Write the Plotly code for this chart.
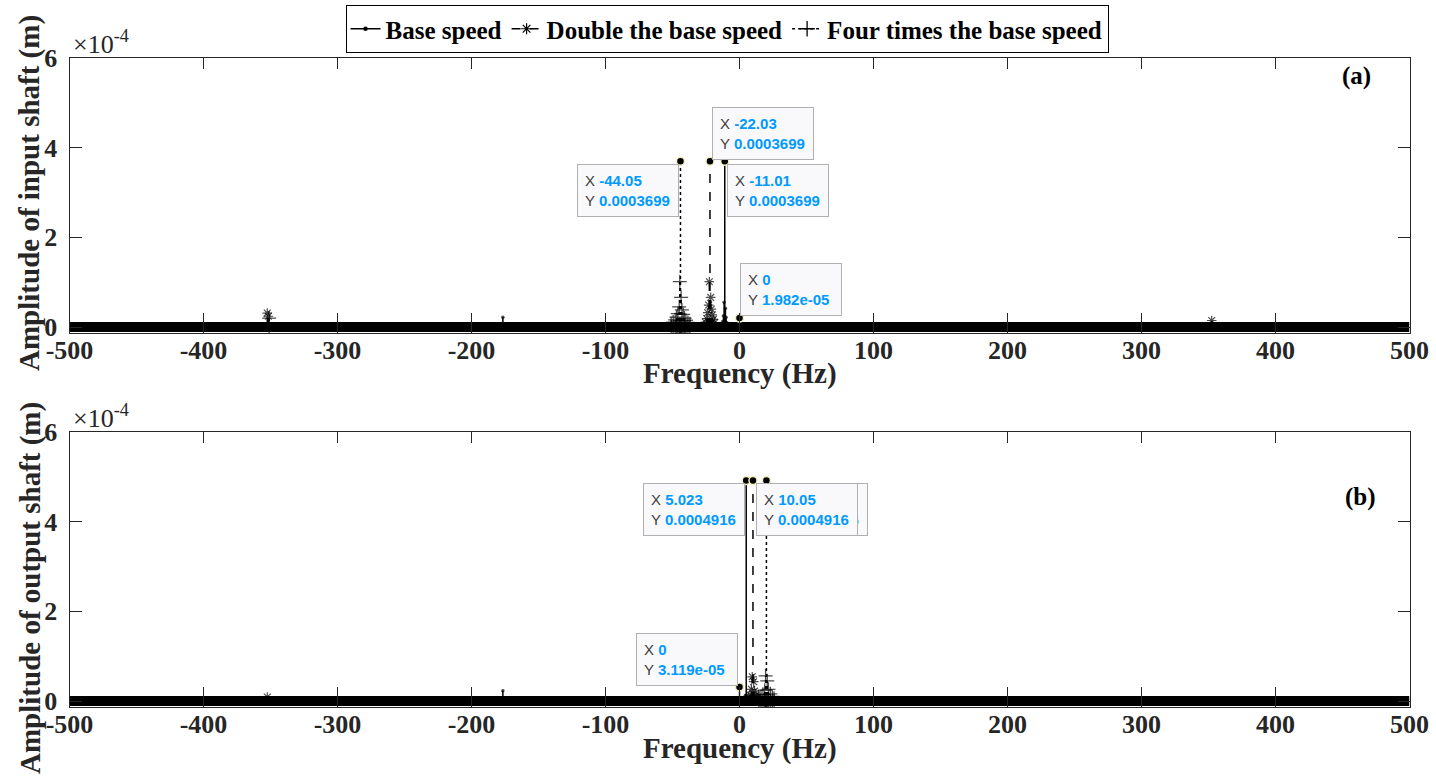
import plotly.graph_objects as go

# ---------------- data ----------------
freq_ticks = [-500, -400, -300, -200, -100, 0, 100, 200, 300, 400, 500]
freq_tick_text = ["-500", "-400", "-300", "-200", "-100", "0", "100", "200", "300", "400", "500"]
amp_ticks = [0, 2e-4, 4e-4, 6e-4]
amp_tick_text = ["0", "2", "4", "6"]

floor_freq = [-500, 500]
floor_amp = [0, 0]

series_names = ["Base speed", "Double the base speed", "Four times the base speed"]

# panel (a): input shaft
a_base_freq = [-176.6, -12.6, -12.0, -11.5, -11.01, -10.5, -10.0, -9.4, 0.0]
a_base_amp = [2.2e-5, 1.2e-5, 2.5e-5, 5.5e-5, 3.699e-4, 4.2e-5, 2.2e-5, 1.0e-5, 1.982e-5]

a_double_freq = [-352.4, -351.6, -25.5, -24.5, -23.7, -23.0, -22.5, -22.03, -21.5, -21.0, -20.3, -19.5, -18.5, 352.4]
a_double_amp = [3.1e-5, 2.4e-5, 1.1e-5, 1.9e-5, 3.2e-5, 4.9e-5, 1.01e-4, 3.699e-4, 6.6e-5, 4.0e-5, 2.7e-5, 1.7e-5, 1.0e-5, 1.45e-5]

a_four_freq = [-351.0, -51.0, -49.5, -48.0, -47.0, -46.0, -45.0, -44.55, -44.05, -43.55, -43.0, -42.0, -41.0, -40.0, -38.5, -37.0]
a_four_amp = [2.0e-5, 0.7e-5, 1.1e-5, 1.6e-5, 2.2e-5, 3.0e-5, 4.5e-5, 1.01e-4, 3.699e-4, 6.6e-5, 3.8e-5, 2.8e-5, 2.0e-5, 1.5e-5, 1.0e-5, 0.7e-5]

# panel (b): output shaft
b_base_freq = [-176.6, 0.0, 4.3, 5.023, 5.7]
b_base_amp = [2.3e-5, 3.119e-5, 1.2e-5, 4.916e-4, 1.0e-5]

b_double_freq = [-352.4, 6.5, 7.8, 8.9, 9.5, 10.05, 10.6, 11.2, 12.3, 13.5]
b_double_amp = [0.9e-5, 0.8e-5, 1.4e-5, 2.6e-5, 5.4e-5, 4.916e-4, 4.3e-5, 2.2e-5, 1.3e-5, 0.8e-5]

b_four_freq = [14.5, 16.0, 17.5, 18.8, 19.5, 20.09, 20.7, 21.6, 23.0, 24.5, 25.8]
b_four_amp = [0.6e-5, 1.0e-5, 1.5e-5, 2.4e-5, 5.6e-5, 4.916e-4, 4.5e-5, 2.6e-5, 1.6e-5, 1.0e-5, 0.6e-5]

# data tips
a_tip_freq = [-44.05, -22.03, -11.01, 0.0]
a_tip_amp = [3.699e-4, 3.699e-4, 3.699e-4, 1.982e-5]
b_tip_freq = [20.09, 5.023, 10.05, 0.0]
b_tip_amp = [4.916e-4, 4.916e-4, 4.916e-4, 3.119e-5]

# ---------------- styling ----------------
SERIF = "Liberation Serif"
SANS = "Liberation Sans"
AXC = "#262626"
BLUE = "#0099ff"

styles = [
    dict(dash="solid", symbol="circle", size=3.5, mline=0),
    dict(dash="dash", symbol="asterisk-open", size=8, mline=1.2),
    dict(dash="dot", symbol="cross-thin-open", size=10, mline=1.3),
]

W, H = 1436, 781
x_left_px, x_right_px = 69.5, 1409.5
a_top_px, a_zero_px, a_bot_px = 58, 327, 332.5
b_top_px, b_zero_px, b_bot_px = 432, 701, 706.5


def py(px):
    return 1 - px / H


def px_x(px):
    return px / W


def yrange(top_px, zero_px, bot_px):
    per_px = 6e-4 / (zero_px - top_px)
    return [-(bot_px - zero_px) * per_px, 6e-4]


def stems(freqs, amps, size, tip_freqs):
    xs, ys, sizes = [], [], []
    for f, a in zip(freqs, amps):
        xs += [f, f, None]
        ys += [0, a, None]
        sizes += [size, 0 if f in tip_freqs else size, 0]
    return xs, ys, sizes


fig = go.Figure()

# legend-only entries
for i, name in enumerate(series_names):
    st = styles[i]
    fig.add_trace(go.Scatter(
        x=[None], y=[None], mode="lines+markers", name=name, legendgroup=name, showlegend=True,
        line=dict(color="black", width=1.5, dash=st["dash"]),
        marker=dict(symbol=st["symbol"], size=st["size"] + 1, color="black",
                    line=dict(color="black", width=st["mline"])),
        hoverinfo="skip"))

panels = [
    ("x", "y", [(a_base_freq, a_base_amp), (a_double_freq, a_double_amp), (a_four_freq, a_four_amp)], a_tip_freq, a_tip_amp),
    ("x2", "y2", [(b_base_freq, b_base_amp), (b_double_freq, b_double_amp), (b_four_freq, b_four_amp)], b_tip_freq, b_tip_amp),
]

for xa, ya, series, tf, ta in panels:
    fig.add_trace(go.Scatter(x=floor_freq, y=floor_amp, mode="lines", xaxis=xa, yaxis=ya,
                             line=dict(color="black", width=10), showlegend=False, hoverinfo="skip"))
    for i, (fr, am) in enumerate(series):
        st = styles[i]
        xs, ys, sizes = stems(fr, am, st["size"], tf)
        fig.add_trace(go.Scatter(
            x=xs, y=ys, mode="lines+markers", xaxis=xa, yaxis=ya,
            name=series_names[i], legendgroup=series_names[i], showlegend=False,
            line=dict(color="black", width=1.5, dash=st["dash"]),
            marker=dict(symbol=st["symbol"], size=sizes, color="black",
                        line=dict(color="black", width=st["mline"])),
            cliponaxis=False,
        ))
    fig.add_trace(go.Scatter(x=tf, y=ta, mode="markers", xaxis=xa, yaxis=ya, showlegend=False,
                             marker=dict(color="black", size=8, line=dict(color="#f3f0c0", width=1.5)),
                             cliponaxis=False, hoverinfo="skip"))

# dummy traces for the top tick axes
fig.add_trace(go.Scatter(x=[None], y=[None], xaxis="x3", yaxis="y", showlegend=False, hoverinfo="skip"))
fig.add_trace(go.Scatter(x=[None], y=[None], xaxis="x4", yaxis="y2", showlegend=False, hoverinfo="skip"))

tickfont = dict(family=SERIF, size=26, color=AXC, weight="bold")
xdom = [px_x(x_left_px), px_x(x_right_px)]

xcommon = dict(range=[-500, 500], domain=xdom, tickvals=freq_ticks, ticktext=freq_tick_text,
               ticks="inside", ticklen=20, automargin=False,
               tickcolor=AXC, tickwidth=1, showline=True, linecolor=AXC, linewidth=1, mirror=True,
               showgrid=False, zeroline=False, tickfont=tickfont, ticklabelstandoff=-6)
xtop = dict(range=[-500, 500], domain=xdom, tickvals=freq_ticks, ticks="inside", ticklen=11,
            tickcolor=AXC, tickwidth=1, side="top", showticklabels=False, showline=False,
            showgrid=False, zeroline=False, automargin=False)
ycommon = dict(tickvals=amp_ticks, ticktext=amp_tick_text, ticks="inside", ticklen=12, tickcolor=AXC,
               tickwidth=1, showline=True, linecolor=AXC, linewidth=1, mirror="ticks", showgrid=False,
               zeroline=False, tickfont=tickfont, ticklabelstandoff=6, automargin=False)

fig.update_layout(
    width=W, height=H, margin=dict(l=0, r=0, t=0, b=0, autoexpand=False),
    paper_bgcolor="white", plot_bgcolor="white",
    xaxis=dict(**xcommon, anchor="y"),
    xaxis2=dict(**xcommon, anchor="y2"),
    xaxis3=dict(**xtop, anchor="y", overlaying="x"),
    xaxis4=dict(**xtop, anchor="y2", overlaying="x2"),
    yaxis=dict(**ycommon, anchor="x", domain=[py(a_bot_px), py(a_top_px)],
               range=yrange(a_top_px, a_zero_px, a_bot_px)),
    yaxis2=dict(**ycommon, anchor="x2", domain=[py(b_bot_px), py(b_top_px)],
                range=yrange(b_top_px, b_zero_px, b_bot_px)),
    legend=dict(orientation="h", x=px_x(727), xanchor="center", y=py(5), yanchor="top",
                bgcolor="white", bordercolor="black", borderwidth=1,
                font=dict(family=SERIF, size=25, color="black", weight="bold"),
                itemwidth=30, tracegroupgap=0),
    showlegend=True,
)

ann = []
title_font = dict(family=SERIF, size=29, color=AXC, weight="bold")
xc = px_x((x_left_px + x_right_px) / 2)
ann.append(dict(text="Frequency (Hz)", x=xc, y=py(373), xref="paper", yref="paper",
                showarrow=False, font=title_font, xanchor="center", yanchor="middle"))
ann.append(dict(text="Frequency (Hz)", x=xc, y=py(748), xref="paper", yref="paper",
                showarrow=False, font=title_font, xanchor="center", yanchor="middle"))
ann.append(dict(text="Amplitude of input shaft (m)", x=px_x(30), y=py(193),
                xref="paper", yref="paper", showarrow=False, font=title_font, textangle=-90,
                xanchor="center", yanchor="middle"))
ann.append(dict(text="Amplitude of output shaft (m)", x=px_x(30), y=py(588),
                xref="paper", yref="paper", showarrow=False, font=title_font, textangle=-90,
                xanchor="center", yanchor="middle"))
for top in (a_top_px, b_top_px):
    ann.append(dict(text="×10<sup>-4</sup>", x=px_x(71), y=py(top + 3), xref="paper", yref="paper",
                    showarrow=False, font=dict(family=SERIF, size=26, color=AXC),
                    xanchor="left", yanchor="bottom"))
ann.append(dict(text="(a)", x=px_x(1356), y=py(76), xref="paper", yref="paper", showarrow=False,
                xanchor="center", yanchor="middle",
                font=dict(family=SERIF, size=25, color="black", weight="bold")))
ann.append(dict(text="(b)", x=px_x(1360), y=py(497), xref="paper", yref="paper", showarrow=False,
                xanchor="center", yanchor="middle",
                font=dict(family=SERIF, size=25, color="black", weight="bold")))


def tip_text(f, a):
    return (f"X <span style='color:{BLUE}'><b>{f:.4g}</b></span><br>"
            f"Y <span style='color:{BLUE}'><b>{a:.4g}</b></span>")


def tip(xa, ya, f, a, xanchor, yanchor, xs, ys):
    return dict(text=tip_text(f, a), x=f, y=a, xref=xa, yref=ya, showarrow=False,
                xanchor=xanchor, yanchor=yanchor, xshift=xs, yshift=ys, align="left",
                valign="middle", width=86, height=37,
                font=dict(family=SANS, size=15, color="#404040"),
                bgcolor="#f9f9fc", bordercolor="#b0b0b0", borderwidth=1, borderpad=7)


# panel (a) tips
pa = [("right", "top", -1, -3), ("left", "bottom", 2, 1), ("left", "top", 2, -3), ("left", "bottom", 0, 2)]
for (f, a), (xa_, ya_, xs, ys) in zip(zip(a_tip_freq, a_tip_amp), pa):
    ann.append(tip("x", "y", f, a, xa_, ya_, xs, ys))
# panel (b) tips (hidden one first)
pb = [("left", "top", 0, -2), ("right", "top", -1, -2), ("left", "top", 3, -2), ("right", "bottom", -2, 1)]
for (f, a), (xa_, ya_, xs, ys) in zip(zip(b_tip_freq, b_tip_amp), pb):
    ann.append(tip("x2", "y2", f, a, xa_, ya_, xs, ys))

fig.update_layout(annotations=ann)
fig.write_html("out.html")
